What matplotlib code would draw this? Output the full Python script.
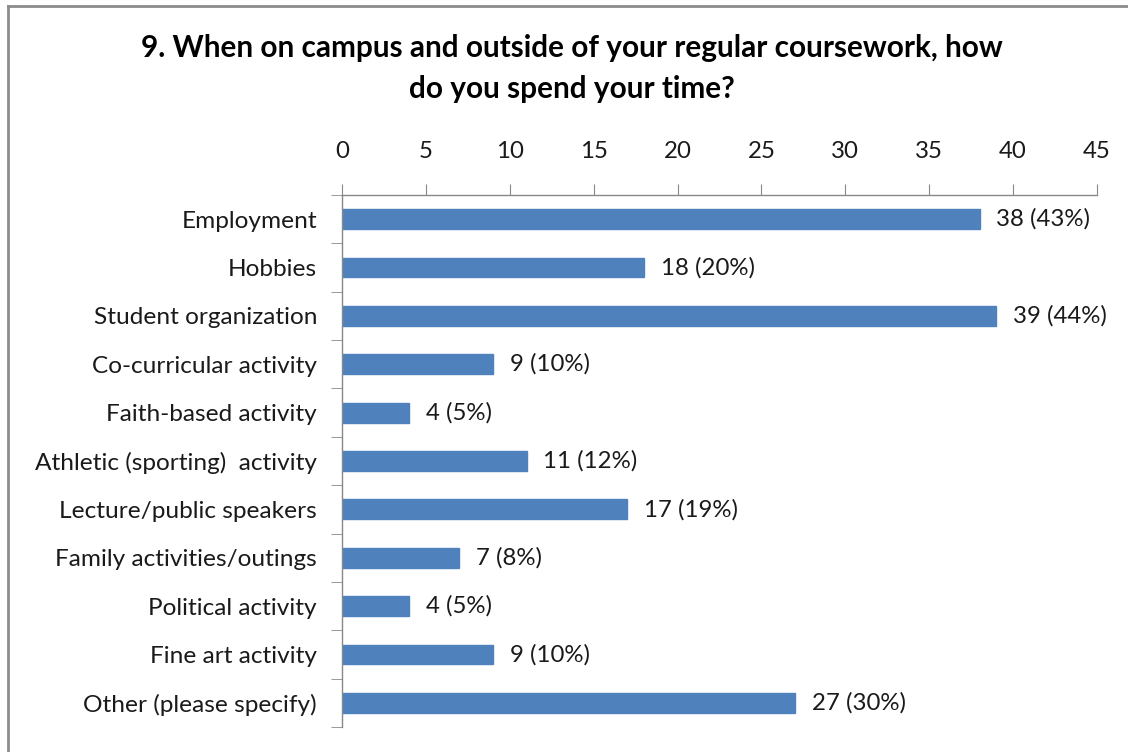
import matplotlib
matplotlib.use("Agg")
import matplotlib.pyplot as plt
from matplotlib.lines import Line2D
import numpy as np

categories = ["Employment", "Hobbies", "Student organization", "Co-curricular activity",
              "Faith-based activity", "Athletic (sporting)  activity", "Lecture/public speakers",
              "Family activities/outings", "Political activity", "Fine art activity",
              "Other (please specify)"]
counts = [38, 18, 39, 9, 4, 11, 17, 7, 4, 9, 27]
percents = [43, 20, 44, 10, 5, 12, 19, 8, 5, 10, 30]
xticks = [0, 5, 10, 15, 20, 25, 30, 35, 40, 45]

plt.rcParams['font.family'] = ['Lato', 'DejaVu Sans']

W, H = 1128, 752
fig = plt.figure(figsize=(W / 100, H / 100), dpi=100)
ax = fig.add_axes([342 / W, 1 - 727 / H, (1097 - 342) / W, (727 - 195) / H])

y = np.arange(len(categories))
ax.barh(y, counts, height=0.41, color="#4F81BD", edgecolor="#4F81BD", zorder=2)
ax.set_ylim(len(categories) - 0.5, -0.5)
ax.set_xlim(0, 45)

for yi, c, p in zip(y, counts, percents):
    ax.text(c + 1.0, yi, f"{c} ({p}%)", va="center", ha="left", fontsize=17.3, color="#1a1a1a")

ax.xaxis.tick_top()
ax.set_xticks(xticks)
ax.set_xticklabels([str(t) for t in xticks], fontsize=17.3, color="#1a1a1a")
ax.tick_params(axis="x", direction="out", length=8, color="#888888", pad=16)

ax.set_yticks(y)
ax.set_yticklabels(categories, fontsize=17.6, color="#1a1a1a")
ax.tick_params(axis="y", which="major", length=0, pad=18)
ax.set_yticks(np.arange(-0.5, len(categories) + 0.5, 1.0), minor=True)
ax.tick_params(axis="y", which="minor", direction="out", length=8, color="#888888")

for s in ["right", "bottom"]:
    ax.spines[s].set_visible(False)
for s in ["top", "left"]:
    ax.spines[s].set_color("#888888")
    ax.spines[s].set_linewidth(1.0)

fig.suptitle("9. When on campus and outside of your regular coursework, how\ndo you spend your time?",
             x=572 / W, y=1 - 34 / H, fontsize=21.4, fontweight="bold", va="top", linespacing=1.55)

fig.add_artist(Line2D([7.5 / W, 7.5 / W], [0, 1 - 6 / H], transform=fig.transFigure, color="#8c8c8c", lw=2))
fig.add_artist(Line2D([7.5 / W, 1], [1 - 6 / H, 1 - 6 / H], transform=fig.transFigure, color="#8c8c8c", lw=2))

fig.savefig("out.png", dpi=100)
